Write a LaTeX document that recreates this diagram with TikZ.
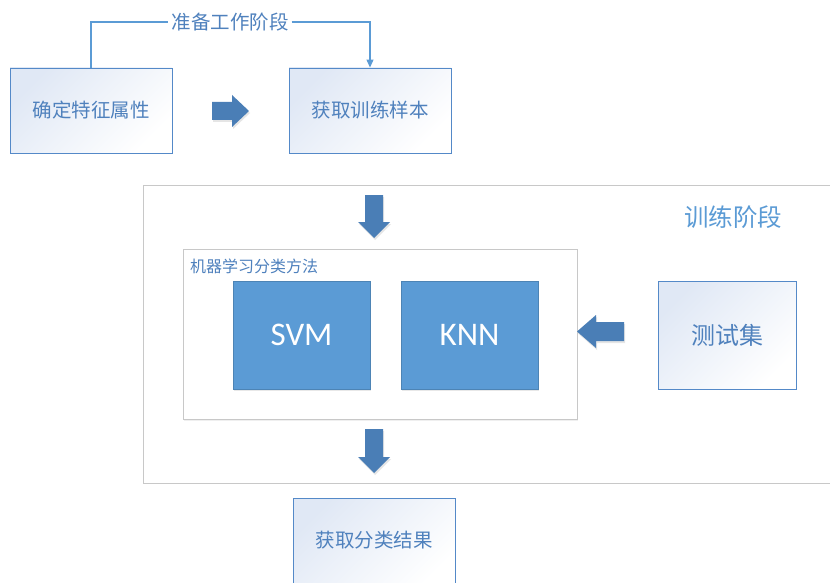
\documentclass[tikz,border=0pt]{standalone}
\usepackage{fontspec}
\setmainfont{Noto Sans CJK SC}
\newfontfamily\latfont{Carlito}
\usetikzlibrary{arrows.meta,shadows}
\definecolor{txtblue}{RGB}{79,129,189}
\definecolor{lineblue}{RGB}{91,155,213}
\definecolor{boxedge}{RGB}{84,137,200}
\definecolor{boxfill}{RGB}{224,232,245}
\definecolor{solid}{RGB}{91,155,213}
\definecolor{arrowblue}{RGB}{74,126,182}
\definecolor{grayedge}{RGB}{200,200,200}
\tikzset{
  lightbox/.style={draw=boxedge, line width=0.9pt, left color=boxfill, right color=white, shading angle=45,
    minimum width=162pt, minimum height=85pt, inner sep=0pt, text=txtblue, font=\fontsize{19.5}{22}\selectfont},
  solidbox/.style={draw=solid!85!black, line width=0.4pt, fill=solid, minimum width=137pt, minimum height=108pt,
    inner sep=0pt, text=white, font=\latfont\fontsize{33}{36}\selectfont,
    drop shadow={opacity=0.18, shadow xshift=1pt, shadow yshift=-2pt}},
  frame/.style={draw=grayedge, line width=0.9pt, fill=white},
  conn/.style={draw=lineblue, line width=1.1pt, -{Triangle[width=7pt,length=8pt]}},
  blockarrow/.style={fill=arrowblue, drop shadow={opacity=0.2, shadow xshift=1pt, shadow yshift=-2pt}},
}
\begin{document}
\begin{tikzpicture}[x=1pt,y=-1pt]
\useasboundingbox (0,0) rectangle (830,583);
\clip (0,0) rectangle (830,583);
\fill[white] (0,0) rectangle (830,583);

% outer training frame
\draw[frame] (143,185) rectangle (840,483);
\node[anchor=center, text=lineblue, font=\fontsize{24.5}{26}\selectfont] (train) at (733,217) {训练阶段};

% inner frame
\node[frame, minimum width=394pt, minimum height=170pt, inner sep=0pt,
  drop shadow={opacity=0.12, shadow xshift=1pt, shadow yshift=-2pt}] (ml) at (380,334) {};
\node[anchor=west, text=txtblue, font=\fontsize{16}{18}\selectfont, inner sep=0pt] (mllabel) at (190,266) {机器学习分类方法};

% top boxes
\node[lightbox] (b1) at (91,110.5) {确定特征属性};
\node[lightbox] (b2) at (370,110.5) {获取训练样本};

% preparation connector
\node[text=txtblue, font=\fontsize{19.5}{22}\selectfont, inner sep=3pt] (prep) at (230,22) {准备工作阶段};
\draw[lineblue, line width=1.1pt] (b1.north) |- (prep.west);
\draw[conn] (prep.east) -| (b2.north);

% SVM / KNN
\node[solidbox] (svm) at (301.5,335) {SVM};
\node[solidbox] (knn) at (469.5,335) {KNN};

% test set
\node[lightbox, minimum width=138pt, minimum height=108pt, font=\fontsize{24}{26}\selectfont] (test) at (727,335) {测试集};

% bottom result
\node[lightbox, minimum height=92pt, text depth=0pt] (res) at (374,544) {};
\node[text=txtblue, font=\fontsize{19.5}{22}\selectfont] (restext) at (374,540) {获取分类结果};

% block arrows
% right arrow between b1 and b2
\fill[blockarrow] (212,102) -- (232,102) -- (232,95) -- (249,111) -- (232,127) -- (232,120) -- (212,120) -- cycle;
% down arrow 1
\fill[blockarrow] (365,195) -- (383,195) -- (383,222) -- (390,222) -- (374,238) -- (358,222) -- (365,222) -- cycle;
% down arrow 2
\fill[blockarrow] (365,429) -- (383,429) -- (383,457) -- (390,457) -- (374,473) -- (358,457) -- (365,457) -- cycle;
% left arrow from test set
\fill[blockarrow] (624,322) -- (596,322) -- (596,315) -- (577,331.5) -- (596,348) -- (596,341) -- (624,341) -- cycle;
\end{tikzpicture}
\end{document}
